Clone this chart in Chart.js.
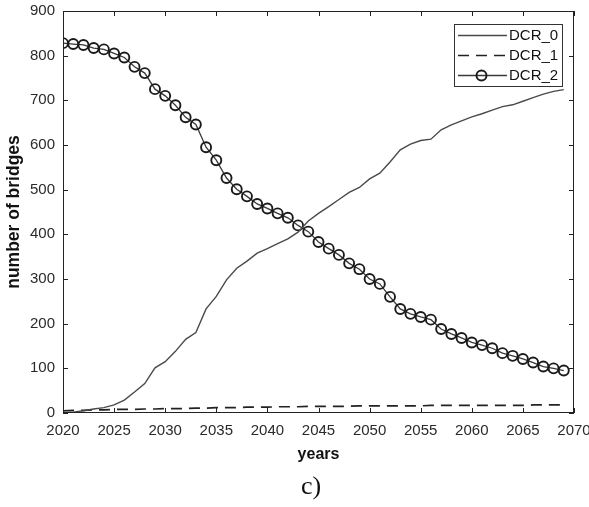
<!DOCTYPE html>
<html>
<head>
<meta charset="utf-8">
<script src="https://cdn.jsdelivr.net/npm/chart.js@4"></script>
<style>
  html, body { margin: 0; padding: 0; background: #fff; }
  #wrap { position: relative; width: 589px; height: 507px; }
</style>
</head>
<body>
<div id="wrap"><canvas id="c" width="589" height="507"></canvas></div>
<script>
const years = [2020,2021,2022,2023,2024,2025,2026,2027,2028,2029,
               2030,2031,2032,2033,2034,2035,2036,2037,2038,2039,
               2040,2041,2042,2043,2044,2045,2046,2047,2048,2049,
               2050,2051,2052,2053,2054,2055,2056,2057,2058,2059,
               2060,2061,2062,2063,2064,2065,2066,2067,2068,2069];
const dcr0 = [2,2,5,9,12,18,29,47,66,101,
              115,138,165,180,233,261,298,324,340,358,
              368,379,390,405,430,447,462,478,494,505,
              524,537,562,589,602,610,613,634,645,654,
              663,670,678,686,690,698,706,714,720,724];
const dcr1 = [5,6,6,7,7,8,8,8,9,9,
              10,10,10,11,11,12,12,12,13,13,
              13,14,14,14,15,15,15,15,15,16,
              16,16,16,16,16,16,17,17,17,17,
              17,17,17,17,17,17,18,18,18,18];
const dcr2 = [828,826,824,817,814,805,796,775,761,725,
              710,689,662,646,595,566,526,501,485,468,
              458,447,437,420,406,383,368,354,335,322,
              300,289,260,233,222,215,209,188,177,168,
              158,152,145,134,128,121,113,104,100,95];
const seriesNames = ['DCR_0','DCR_1','DCR_2'];
const xTicks = [2020,2025,2030,2035,2040,2045,2050,2055,2060,2065,2070];
const yTicks = [0,100,200,300,400,500,600,700,800,900];
const xTitle = 'years';
const yTitle = 'number of bridges';
const panelLabel = 'c)';

const FONT = "'Liberation Sans', Arial, sans-serif";

const toPts = (vals) => years.map((y, i) => ({x: y, y: vals[i]}));

const boxTicks = {
  id: 'boxTicks',
  afterDraw(chart) {
    const {ctx, chartArea: a, scales: {x, y}} = chart;
    ctx.save();
    ctx.strokeStyle = '#222';
    ctx.lineWidth = 1;
    ctx.strokeRect(a.left + 0.5, a.top + 0.5, a.right - a.left - 1, a.bottom - a.top - 1);
    const L = 5;
    ctx.beginPath();
    xTicks.forEach(v => {
      const px = Math.round(x.getPixelForValue(v)) + 0.5;
      ctx.moveTo(px, a.bottom); ctx.lineTo(px, a.bottom - L);
      ctx.moveTo(px, a.top); ctx.lineTo(px, a.top + L);
    });
    yTicks.forEach(v => {
      const py = Math.round(y.getPixelForValue(v)) + 0.5;
      ctx.moveTo(a.left, py); ctx.lineTo(a.left + L, py);
      ctx.moveTo(a.right, py); ctx.lineTo(a.right - L, py);
    });
    ctx.stroke();

    // legend
    const bx = 454, by = 24, bw = 108, bh = 62;
    ctx.fillStyle = '#fff';
    ctx.fillRect(bx, by, bw, bh);
    ctx.strokeStyle = '#333';
    ctx.lineWidth = 1;
    ctx.strokeRect(bx + 0.5, by + 0.5, bw, bh);
    const rows = [35, 55, 75];
    ctx.font = '15px ' + FONT;
    ctx.textBaseline = 'middle';
    ctx.textAlign = 'left';
    chart.data.datasets.forEach((ds, i) => {
      const ry = rows[i] + 0.5;
      ctx.save();
      ctx.strokeStyle = ds.borderColor;
      ctx.lineWidth = ds.borderWidth;
      ctx.setLineDash(ds.borderDash || []);
      ctx.beginPath();
      ctx.moveTo(458, ry); ctx.lineTo(507, ry);
      ctx.stroke();
      ctx.restore();
      if (ds.pointRadius > 0) {
        ctx.beginPath();
        ctx.strokeStyle = ds.pointBorderColor;
        ctx.lineWidth = ds.pointBorderWidth;
        ctx.arc(481.5, ry, ds.pointRadius, 0, Math.PI * 2);
        ctx.stroke();
      }
      ctx.fillStyle = '#111';
      ctx.fillText(ds.label, 509, rows[i] + 1);
    });

    // panel label
    ctx.fillStyle = '#111';
    ctx.font = "26px 'Liberation Serif', 'Times New Roman', serif";
    ctx.textAlign = 'center';
    ctx.textBaseline = 'middle';
    ctx.fillText(panelLabel, 311, 487);
    ctx.restore();
  }
};

new Chart(document.getElementById('c'), {
  type: 'line',
  data: {
    datasets: [
      {label: seriesNames[0], data: toPts(dcr0), borderColor: '#4a4a4a', borderWidth: 1.4,
       pointRadius: 0, tension: 0, fill: false},
      {label: seriesNames[1], data: toPts(dcr1), borderColor: '#222', borderWidth: 1.7,
       borderDash: [11, 7], pointRadius: 0, tension: 0, fill: false},
      {label: seriesNames[2], data: toPts(dcr2), borderColor: '#3a3a3a', borderWidth: 1.3,
       pointRadius: 5, pointStyle: 'circle', pointBorderColor: '#1a1a1a', pointBorderWidth: 1.9,
       pointBackgroundColor: 'rgba(0,0,0,0)', tension: 0, fill: false}
    ]
  },
  options: {
    responsive: false,
    animation: false,
    devicePixelRatio: 1,
    layout: {padding: {left: 0, right: 15, top: 11, bottom: 44}},
    plugins: {legend: {display: false}, tooltip: {enabled: false}},
    scales: {
      x: {
        type: 'linear', min: 2020, max: 2070,
        afterBuildTicks(s) { s.ticks = xTicks.map(v => ({value: v})); },
        afterFit(s) { s.height = 50; s.paddingLeft = 0; s.paddingRight = 0; },
        ticks: {padding: 9, color: '#2a2a2a', font: {family: FONT, size: 15},
                maxRotation: 0, autoSkip: false, callback: v => String(v)},
        grid: {display: false, drawTicks: false},
        border: {display: false},
        title: {display: true, text: xTitle, color: '#111',
                font: {family: FONT, size: 16, weight: 'bold', lineHeight: 1},
                padding: {top: 0, bottom: 0}}
      },
      y: {
        min: 0, max: 900,
        afterBuildTicks(s) { s.ticks = yTicks.map(v => ({value: v})); },
        afterFit(s) { s.width = 63; s.paddingTop = 0; s.paddingBottom = 0; },
        ticks: {padding: 8, color: '#2a2a2a', font: {family: FONT, size: 15}, autoSkip: false},
        grid: {display: false, drawTicks: false},
        border: {display: false},
        title: {display: true, text: yTitle, color: '#111',
                font: {family: FONT, size: 17.5, weight: 'bold', lineHeight: 1},
                padding: {top: 5, bottom: 0}}
      }
    }
  },
  plugins: [boxTicks]
});
</script>
</body>
</html>
